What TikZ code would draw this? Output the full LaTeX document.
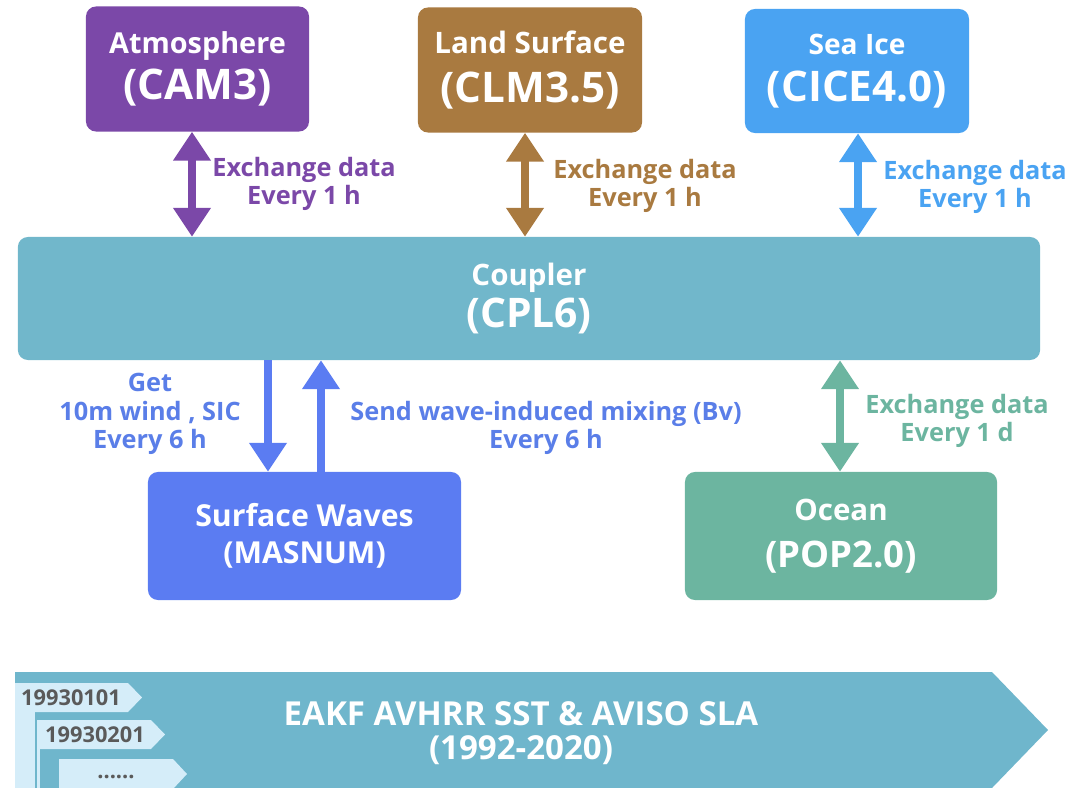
\documentclass[tikz,border=0pt]{standalone}
\usepackage{fontspec}
\setmainfont{Open Sans}
\usetikzlibrary{arrows.meta}

\definecolor{atmcol}{HTML}{7B48A8}
\definecolor{lndcol}{HTML}{A97A40}
\definecolor{icecol}{HTML}{4AA3F2}
\definecolor{cplcol}{HTML}{71B7CB}
\definecolor{wavcol}{HTML}{5B7CF2}
\definecolor{wavtxt}{HTML}{5A7EE8}
\definecolor{ocncol}{HTML}{6CB5A0}
\definecolor{bancol}{HTML}{6FB6CC}
\definecolor{tagcol}{HTML}{D5EDF9}
\definecolor{tagtxt}{HTML}{5A5A5A}

\tikzset{
  modbox/.style={rounded corners=0.25cm, text=white, align=center, inner sep=0pt,
    font=\bfseries\fontsize{21}{33}\selectfont},
  xchg/.style={line width=0.2cm, {Triangle[width=0.9cm,length=0.72cm]}-{Triangle[width=0.9cm,length=0.72cm]}},
  oneway/.style={line width=0.2cm, -{Triangle[width=0.9cm,length=0.72cm]}},
  lbl/.style={align=center, font=\bfseries\fontsize{18}{20.5}\selectfont},
  datetag/.style={text=tagtxt, font=\bfseries\fontsize{15.5}{17}\selectfont}
}
\newcommand{\bigname}[2][30]{{\fontsize{#1}{32}\selectfont #2}}

\begin{document}
\begin{tikzpicture}[x=0.025cm, y=-0.025cm]
  % unidades em pixeis da figura original: x para a direita, y para baixo
  \useasboundingbox (0,0) rectangle (1071,788);
  \node[modbox, fill=atmcol, minimum width=5.575cm, minimum height=3.125cm] (atm) at (197.5,69) {{\fontsize{20.5}{33}\selectfont Atmosphere}\\\bigname{(CAM3)}};
  \node[modbox, fill=lndcol, minimum width=5.6cm, minimum height=3.125cm, font=\bfseries\fontsize{21}{34.5}\selectfont] (lnd) at (530,70) {Land Surface\\\bigname{(CLM3.5)}};
  \node[modbox, fill=icecol, minimum width=5.6cm, minimum height=3.1cm] (ice) at (857,71) {{\fontsize{20}{33}\selectfont Sea Ice}\\\bigname{(CICE4.0)}};
  \node[modbox, fill=cplcol, minimum width=25.55cm, minimum height=3.075cm, font=\bfseries\fontsize{21}{29.5}\selectfont] (cpl) at (529,298.5) {Coupler\\\bigname[29]{(CPL6)}};
  \node[modbox, fill=wavcol, minimum width=7.825cm, minimum height=3.2cm, font=\bfseries\fontsize{21.5}{26}\selectfont] (wav) at (304.5,536) {Surface Waves\\\bigname[21.5]{(MASNUM)}};
  \node[modbox, fill=ocncol, minimum width=7.8cm, minimum height=3.2cm, font=\bfseries\fontsize{21}{33}\selectfont] (ocn) at (841,536) {Ocean\\\bigname[26]{(POP2.0)}};
  % trocas com o acoplador
  \draw[xchg, atmcol] (192,0 |- atm.south) -- (192,0 |- cpl.north);
  \node[lbl, text=atmcol] (atmlbl) at (304,184) {Exchange data\\Every 1 h};
  \draw[xchg, lndcol] (525,0 |- lnd.south) -- (525,0 |- cpl.north);
  \node[lbl, text=lndcol] (lndlbl) at (645,186) {Exchange data\\Every 1 h};
  \draw[xchg, icecol] (858,0 |- ice.south) -- (858,0 |- cpl.north);
  \node[lbl, text=icecol] (icelbl) at (975,187) {Exchange data\\Every 1 h};
  \draw[oneway, wavcol] (268,0 |- cpl.south) -- (268,0 |- wav.north);
  \node[lbl, text=wavtxt] (getlbl) at (150,414) {Get\\10m wind , SIC\\Every 6 h};
  \draw[oneway, wavcol] (321,0 |- wav.north) -- (321,0 |- cpl.south);
  \node[lbl, text=wavtxt] (sendlbl) at (546,428) {Send wave-induced mixing (Bv)\\Every 6 h};
  \draw[xchg, ocncol] (840,0 |- cpl.south) -- (840,0 |- ocn.north);
  \node[lbl, text=ocncol] (ocnlbl) at (957,421) {Exchange data\\Every 1 d};
  % faixa da assimilacao, com as datas de arranque a esquerda
  \fill[bancol] (15,672) -- (992,672) -- (1048,730) -- (992,788) -- (15,788) -- cycle;
  \node[white, align=center, font=\bfseries\fontsize{23.5}{24}\selectfont] (eakf) at (521,733) {EAKF AVHRR SST \& AVISO SLA\\(1992-2020)};
  \fill[tagcol] (15,683) -- (128,683) -- (142,697.5) -- (128,712) -- (15,712) -- cycle;
  \fill[tagcol] (15,712) rectangle (35,788);
  \node[datetag] (d1) at (71,698) {19930101};
  \fill[tagcol] (37,720) -- (151,720) -- (165,734.5) -- (151,749) -- (37,749) -- cycle;
  \fill[tagcol] (37,749) rectangle (40,788);
  \node[datetag] (d2) at (95,735) {19930201};
  \fill[tagcol] (59,759) -- (173,759) -- (187,774) -- (173,789) -- (59,789) -- cycle;
  \node[datetag] (d3) at (116,777) {......};
\end{tikzpicture}
\end{document}
